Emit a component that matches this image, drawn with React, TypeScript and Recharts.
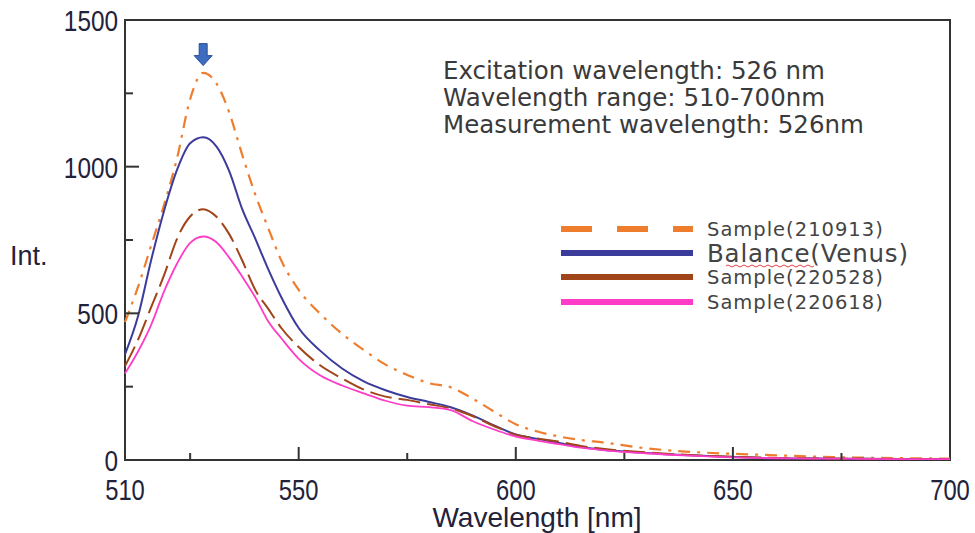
import { LineChart, Line, XAxis, YAxis, ReferenceArea, ReferenceDot } from "recharts"

const wavelengths = [510, 513, 516, 519, 522, 525, 528, 531, 534, 537, 540, 543, 546, 550, 555, 560, 565, 570, 575, 580, 585, 590, 595, 600, 605, 610, 615, 620, 630, 640, 650, 660, 670, 680, 690, 700]
const sample210913 = [470, 590, 730, 870, 1030, 1230, 1320, 1285, 1185, 1040, 905, 790, 680, 580, 498, 430, 375, 325, 290, 262, 248, 210, 165, 122, 97, 80, 68, 60, 40, 28, 21, 16, 11, 8, 6, 5]
const balanceVenus = [360, 490, 680, 850, 990, 1080, 1100, 1070, 985, 855, 755, 650, 555, 450, 372, 312, 268, 238, 215, 198, 180, 152, 118, 87, 72, 58, 44, 35, 24, 16, 10, 6, 5, 4, 3, 3]
const sample220528 = [320, 410, 520, 630, 755, 830, 855, 830, 770, 680, 580, 515, 450, 385, 322, 278, 240, 216, 205, 190, 176, 150, 116, 86, 73, 62, 48, 38, 26, 17, 11, 7, 5, 4, 3, 3]
const sample220618 = [295, 370, 460, 575, 670, 740, 762, 743, 690, 625, 555, 472, 415, 345, 288, 254, 227, 202, 185, 180, 170, 133, 104, 80, 66, 54, 42, 34, 23, 15, 9, 6, 5, 4, 3, 3]

const xTicks = [510, 525, 550, 575, 600, 625, 650, 675, 700]
const xLabels = [510, 550, 600, 650, 700]
const yTicks = [0, 250, 500, 750, 1000, 1250, 1500]
const yLabels = [0, 500, 1000, 1500]
const notes = ["Excitation wavelength: 526 nm", "Wavelength range: 510-700nm", "Measurement wavelength: 526nm"]

const data = wavelengths.map((wl, i) => ({
  wl,
  s210913: sample210913[i],
  balance: balanceVenus[i],
  s220528: sample220528[i],
  s220618: sample220618[i],
}))

const AXIS_TEXT = "#22223a"
const FRAME = "#333"
const NOTE_FONT = "'DejaVu Sans', Verdana, sans-serif"

function XTick(props: any) {
  const { x, y, payload } = props
  const v = payload.value as number
  const major = xLabels.includes(v)
  const edge = v === 510 || v === 700
  return (
    <g>
      {!edge && <line x1={x} x2={x} y1={y} y2={y - (major ? 13 : 7)} stroke={FRAME} strokeWidth={2} />}
      {major && (
        <text
          transform={`translate(${x},${y + 40}) scale(0.82,1)`}
          textAnchor="middle"
          fontSize={29}
          fontFamily="'Liberation Sans', Arial, sans-serif"
          fill={AXIS_TEXT}
        >
          {v}
        </text>
      )}
    </g>
  )
}

function YTick(props: any) {
  const { x, y, payload } = props
  const v = payload.value as number
  const major = yLabels.includes(v)
  const edge = v === 0 || v === 1500
  return (
    <g>
      {!edge && <line x1={x} x2={x + (major ? 14 : 8)} y1={y} y2={y} stroke={FRAME} strokeWidth={2} />}
      {major && (
        <text
          transform={`translate(${x - 7},${y + 11}) scale(0.84,1)`}
          textAnchor="end"
          fontSize={29}
          fontFamily="'Liberation Sans', Arial, sans-serif"
          fill={AXIS_TEXT}
        >
          {v}
        </text>
      )}
    </g>
  )
}

function DownArrow(props: any) {
  const { cx, cy } = props
  const pts = [
    [cx - 4, cy - 11],
    [cx + 4, cy - 11],
    [cx + 4, cy + 1],
    [cx + 9, cy + 1],
    [cx, cy + 11],
    [cx - 9, cy + 1],
    [cx - 4, cy + 1],
  ]
    .map((p) => p.join(","))
    .join(" ")
  return <polygon points={pts} fill="#3d6cc0" stroke="#2a4f94" strokeWidth={1} />
}

const legendItems = [
  { label: "Sample(210913)", color: "#ef7d2e", dash: "31 25", y: 229, size: 19.5, spacing: 1 },
  { label: "Balance(Venus)", color: "#3b3b9b", dash: undefined, y: 253, size: 24.5, spacing: 0.8 },
  { label: "Sample(220528)", color: "#a0441a", dash: undefined, y: 277, size: 19.5, spacing: 1 },
  { label: "Sample(220618)", color: "#ff3cc8", dash: undefined, y: 302, size: 19.5, spacing: 1 },
]

export default function App() {
  return (
    <div style={{ position: "absolute", left: 0, top: 0, width: 975, height: 533, background: "#fff" }}>
      <LineChart width={975} height={533} data={data} margin={{ top: 20, right: 25, left: 0, bottom: 0 }}>
        <XAxis
          dataKey="wl"
          type="number"
          domain={[510, 700]}
          ticks={xTicks}
          interval={0}
          tickSize={0}
          tickMargin={0}
          axisLine={false}
          tickLine={false}
          height={73}
          tick={<XTick />}
        />
        <YAxis
          type="number"
          domain={[0, 1500]}
          ticks={yTicks}
          interval={0}
          tickSize={0}
          tickMargin={0}
          axisLine={false}
          tickLine={false}
          width={125}
          tick={<YTick />}
        />
        <Line dataKey="s210913" type="monotone" stroke="#ef7d2e" strokeWidth={2.2} strokeDasharray="12 7 3 7" dot={false} isAnimationActive={false} />
        <Line dataKey="balance" type="monotone" stroke="#3b3b9b" strokeWidth={2} dot={false} isAnimationActive={false} />
        <Line dataKey="s220528" type="monotone" stroke="#a0441a" strokeWidth={2} strokeDasharray="22 7" dot={false} isAnimationActive={false} />
        <Line dataKey="s220618" type="monotone" stroke="#ff3cc8" strokeWidth={1.8} dot={false} isAnimationActive={false} />
        <ReferenceArea x1={510} x2={700} y1={0} y2={1500} fill="none" fillOpacity={0} stroke={FRAME} strokeWidth={2} ifOverflow="visible" />
        <ReferenceDot x={528} y={1382} r={10} shape={<DownArrow />} ifOverflow="visible" />
      </LineChart>
      <svg width={975} height={533} style={{ position: "absolute", left: 0, top: 0, pointerEvents: "none" }}>
        <text x={10} y={265} fontSize={27} fontFamily="'Liberation Sans', Arial, sans-serif" fill={AXIS_TEXT}>
          Int.
        </text>
        <text
          x={537}
          y={527}
          textAnchor="middle"
          fontSize={28}
          fontFamily="'Liberation Sans', Arial, sans-serif"
          fill={AXIS_TEXT}
        >
          Wavelength [nm]
        </text>
        {notes.map((t, i) => (
          <text key={t} x={443} y={79 + i * 27} fontSize={24.5} fontFamily={NOTE_FONT} fill="#3a3a3a">
            {t}
          </text>
        ))}
        {legendItems.map((it) => (
          <g key={it.label}>
            <line x1={561} x2={693} y1={it.y} y2={it.y} stroke={it.color} strokeWidth={6} strokeDasharray={it.dash} />
            <text
              x={707}
              y={it.y + it.size * 0.36}
              fontSize={it.size}
              letterSpacing={it.spacing}
              fontFamily={NOTE_FONT}
              fill="#444"
            >
              {it.label}
            </text>
          </g>
        ))}
        <path d="M 726 266 q 2 -2 4 0 t 4 0 t 4 0 t 4 0 t 4 0 t 4 0 t 4 0 t 4 0 t 4 0 t 4 0 t 4 0 t 4 0 t 4 0 t 4 0 t 4 0 t 4 0 t 4 0 t 4 0 t 4 0 t 4 0 t 4 0 t 4 0" fill="none" stroke="#e0404a" strokeWidth={1} />
      </svg>
    </div>
  )
}
